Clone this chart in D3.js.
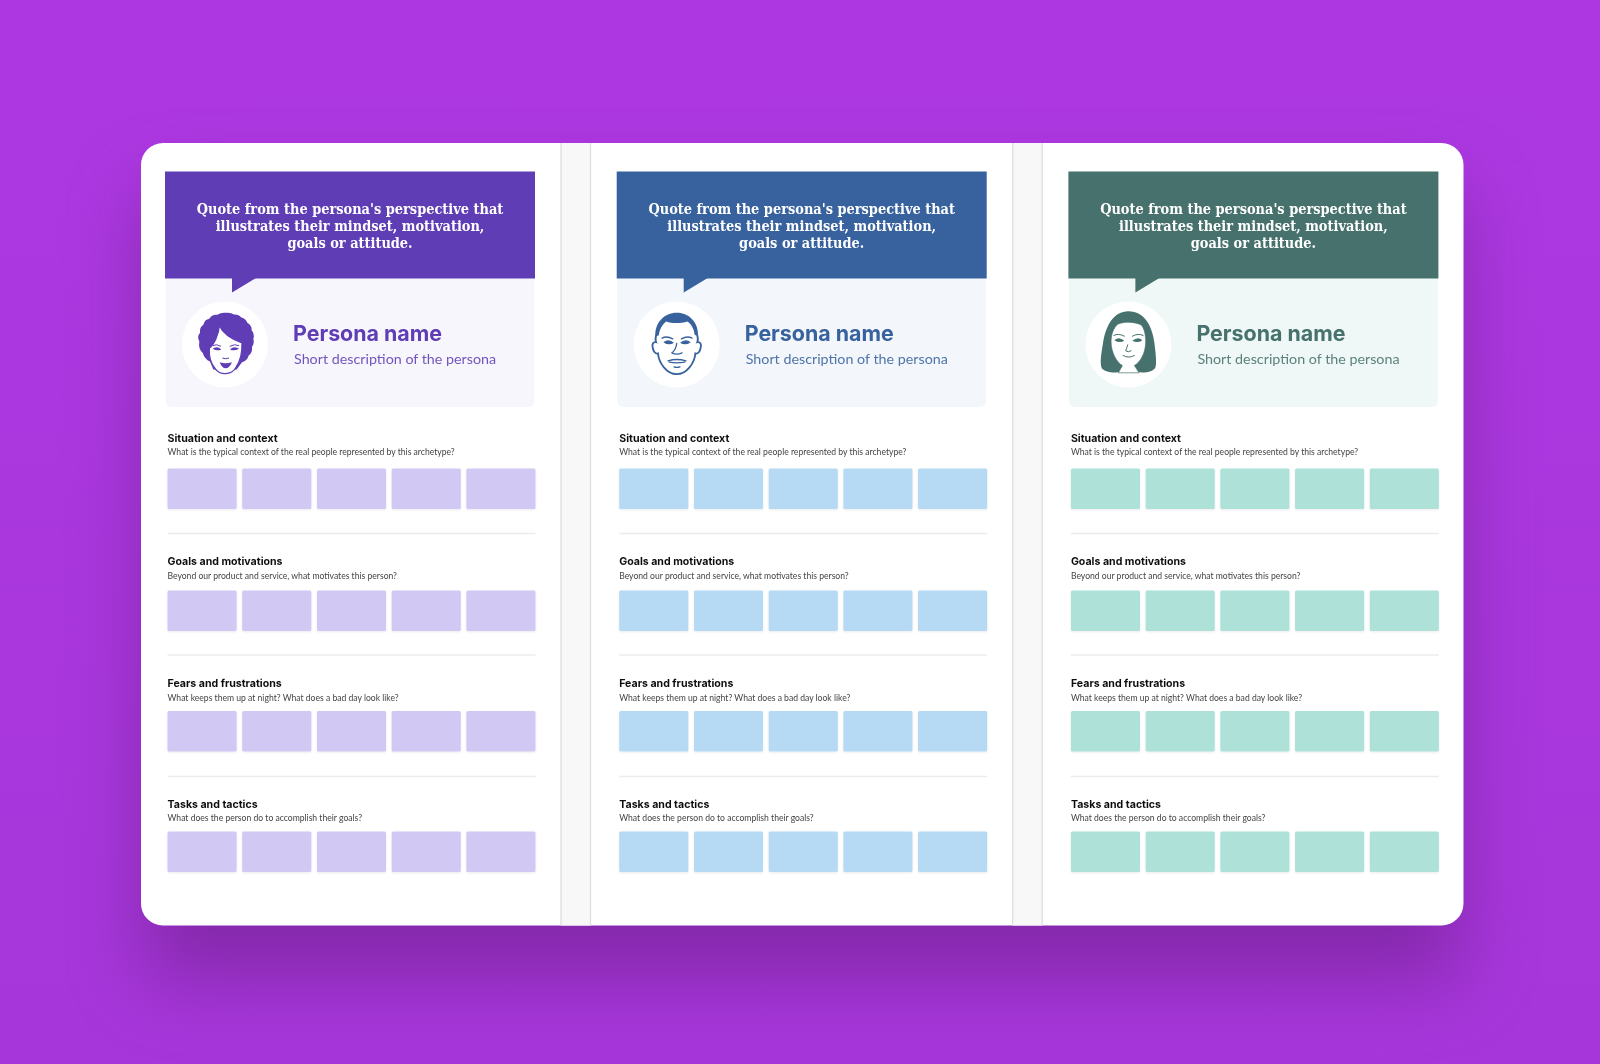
<!DOCTYPE html>
<html>
<head>
<meta charset="utf-8">
<script src="https://cdnjs.cloudflare.com/ajax/libs/d3/7.8.5/d3.min.js"></script>
<style>
  html, body { margin: 0; padding: 0; background: #ad38e2; overflow: hidden; }
  svg { display: block; }
</style>
</head>
<body>
<div id="chart"></div>
<script>
var personas = ['purple', 'blue', 'green'];
var headerColors = ['#5f3db5', '#38629e', '#47716c'];
var panelColors = ['#f7f6fc', '#f3f7fc', '#eff8f6'];
var stickyColors = ['#d1c8f3', '#b6d9f4', '#aee2d8'];
var quoteLines = ["Quote from the persona's perspective that", 'illustrates their mindset, motivation,', 'goals or attitude.'];
var personaName = 'Persona name';
var personaDesc = 'Short description of the persona';
var sections = ['Situation and context', 'Goals and motivations', 'Fears and frustrations', 'Tasks and tactics'];
var questions = [
    'What is the typical context of the real people represented by this archetype?',
    'Beyond our product and service, what motivates this person?',
    'What keeps them up at night? What does a bad day look like?',
    'What does the person do to accomplish their goals?'
];
var stickies = [1, 2, 3, 4, 5];

var WIDTH = 1600, HEIGHT = 1064;

var svg = d3.select('#chart').append('svg')
    .attr('width', WIDTH)
    .attr('height', HEIGHT);

var defs = svg.append('defs');

var bg = defs.append('linearGradient').attr('id', 'bg')
    .attr('x1', 0).attr('y1', 0).attr('x2', 0).attr('y2', 1);
bg.append('stop').attr('offset', '0').attr('stop-color', '#ad38e2');
bg.append('stop').attr('offset', '1').attr('stop-color', '#a636da');

defs.append('filter').attr('id', 'cardShadow')
    .attr('x', '-30%').attr('y', '-30%').attr('width', '160%').attr('height', '160%')
    .attr('color-interpolation-filters', 'sRGB')
    .append('feGaussianBlur').attr('stdDeviation', 38);

defs.append('filter').attr('id', 'soft')
    .attr('x', '-5%').attr('y', '-5%').attr('width', '110%').attr('height', '110%')
    .append('feGaussianBlur').attr('stdDeviation', 0.35);

defs.append('filter').attr('id', 'stickyShadow')
    .attr('x', '-10%').attr('y', '-10%').attr('width', '120%').attr('height', '130%')
    .append('feDropShadow')
    .attr('dx', 0).attr('dy', 1).attr('stdDeviation', 1.2)
    .attr('flood-color', '#000').attr('flood-opacity', 0.08);

svg.append('rect').attr('width', WIDTH).attr('height', HEIGHT).attr('fill', 'url(#bg)');

// shadow under the card
svg.append('rect')
    .attr('x', 145).attr('y', 190)
    .attr('width', 1315).attr('height', 790)
    .attr('fill', '#6a1e86').attr('opacity', 0.56)
    .attr('filter', 'url(#cardShadow)');

svg.append('rect')
    .attr('x', 141).attr('y', 143)
    .attr('width', 1322.5).attr('height', 782.5)
    .attr('rx', 22)
    .attr('fill', '#fff');

var root = svg.append('g').attr('filter', 'url(#soft)');

// scales
var columnX = d3.scalePoint().domain(personas).range([0, 903.4]);
var stickyX = d3.scaleBand().domain(stickies).range([167.5, 535.5]).paddingInner(0.0745).paddingOuter(0);
var titleY = d3.scaleOrdinal().domain(sections).range([442, 565, 687, 808]);
var questionY = d3.scaleOrdinal().domain(sections).range([455, 578.5, 700.5, 821]);
var stickyY = d3.scaleOrdinal().domain(sections).range([468.5, 590.5, 711, 831.5]);
var stickyH = 40.5;
var dividerY = d3.scaleOrdinal().domain(sections.slice(0, 3)).range([533.5, 655, 776.5]);
var quoteY = d3.scalePoint().domain(quoteLines).range([213.5, 247.5]);

// gray strips between the sheets
personas.slice(0, 2).forEach(function (p) {
    var g = root.append('g').attr('transform', 'translate(' + columnX(p) + ',0)');
    g.append('rect').attr('x', 561).attr('y', 143).attr('width', 29.5).attr('height', 782.5).attr('fill', '#f8f8f8');
    g.selectAll('line')
        .data([561, 590.5])
        .enter().append('line')
        .attr('x1', function (d) { return d; })
        .attr('x2', function (d) { return d; })
        .attr('y1', 143).attr('y2', 925.5)
        .attr('stroke', '#dcdcdc').attr('stroke-width', 1.2);
});

// faces are drawn in a 330 box, 3x the size on screen
function drawPurpleFace(g, c) {
    g.append('path').attr('fill', c)
        .attr('d', 'M168 70 Q182 68 192 75 Q206 74 214 84 Q228 88 232 100 Q246 108 245 122 Q255 134 250 148 Q254 162 246 172 Q248 190 236 198 Q232 214 216 218 L200 240 L130 240 L120 216 Q104 210 98 190 Q84 178 88 156 Q80 142 90 130 Q88 114 100 106 Q104 90 118 88 Q126 74 142 76 Q154 68 168 70 Z');
    g.append('path').attr('fill', '#fff').attr('stroke', c).attr('stroke-width', 4)
        .attr('d', 'M148 108 C156 126 176 146 216 160 C217 192 212 214 198 234 C184 258 150 258 136 238 C122 222 116 200 118 176 C132 166 146 136 148 108 Z');
    g.append('path').attr('fill', 'none').attr('stroke', c).attr('stroke-width', 3).attr('stroke-linecap', 'round')
        .attr('d', 'M128 168 Q140 162 152 170 M180 170 Q194 162 206 168 M158 206 Q167 210 176 206');
    g.append('path').attr('fill', c)
        .attr('d', 'M128 178 Q141 168 154 180 Q141 186 128 178 Z M180 180 Q193 168 207 178 Q193 186 180 180 Z M149 218 Q167 224 186 218 Q178 236 167 236 Q156 236 149 218 Z');
}

function drawBlueFace(g, c) {
    g.append('path').attr('fill', c)
        .attr('d', 'M108 140 C106 100 135 70 172 70 C210 70 238 100 236 140 L226 136 C224 118 216 104 204 96 C184 102 158 102 140 96 C128 106 120 120 118 138 Z');
    g.append('path').attr('fill', 'none').attr('stroke', c).attr('stroke-width', 5.5).attr('stroke-linecap', 'round')
        .attr('d', 'M110 138 C108 148 108 154 110 158 C102 156 97 164 100 174 C102 186 108 194 116 192 C118 220 142 254 172 254 C202 254 226 220 228 192 C236 194 242 186 244 174 C247 164 242 156 234 158 C236 154 236 148 234 138');
    g.append('path').attr('fill', 'none').attr('stroke', c).attr('stroke-width', 4).attr('stroke-linecap', 'round')
        .attr('d', 'M128 146 Q142 138 160 148 M186 148 Q204 138 218 146 M172 162 Q170 180 158 190 Q172 198 188 190 M146 214 Q172 206 200 214 M150 218 Q172 222 196 218 M164 232 Q172 235 182 232');
    g.append('path').attr('fill', c)
        .attr('d', 'M132 158 Q148 146 164 160 Q148 170 132 158 Z M182 160 Q198 146 214 158 Q198 170 182 160 Z');
}

function drawGreenFace(g, c) {
    g.append('path').attr('fill', c)
        .attr('d', 'M178 65 C226 65 250 110 256 160 C260 195 264 225 258 236 C248 248 226 250 214 248 L146 248 C132 250 108 248 98 236 C92 220 96 195 102 160 C110 108 134 65 178 65 Z');
    g.append('path').attr('fill', '#fff').attr('stroke', c).attr('stroke-width', 2)
        .attr('d', 'M146 104 C166 96 194 96 216 106 C226 116 230 138 230 156 C230 192 212 220 196 228 L210 250 L148 250 L160 228 C144 220 126 190 126 156 C126 134 134 114 146 104 Z');
    g.append('path').attr('fill', 'none').attr('stroke', c).attr('stroke-width', 3).attr('stroke-linecap', 'round')
        .attr('d', 'M134 138 Q148 130 166 140 M190 140 Q208 130 222 138 M176 166 Q172 178 170 184 Q178 190 186 184 M162 198 Q178 208 196 198');
    g.append('path').attr('fill', c)
        .attr('d', 'M136 152 Q150 140 166 154 Q150 162 136 152 Z M190 154 Q206 140 220 152 Q206 162 190 154 Z');
}

var faceDrawers = [drawPurpleFace, drawBlueFace, drawGreenFace];
var faceCenters = [[165, 165], [172, 165], [178, 165]];

personas.forEach(function (p, i) {
    var col = root.append('g').attr('class', 'col-' + p)
        .attr('transform', 'translate(' + columnX(p) + ',0)');
    var main = headerColors[i];

    col.append('rect')
        .attr('x', 165.5).attr('y', 270)
        .attr('width', 369).attr('height', 137)
        .attr('rx', 6)
        .attr('fill', panelColors[i]);

    col.append('rect')
        .attr('x', 165).attr('y', 171.5)
        .attr('width', 370).attr('height', 107)
        .attr('fill', main);

    col.append('path')
        .attr('d', 'M232 278 L232 292.5 L256 278 Z')
        .attr('fill', main);

    col.selectAll('text.quote')
        .data(quoteLines)
        .enter().append('text')
        .attr('class', 'quote')
        .attr('x', 350)
        .attr('y', function (d) { return quoteY(d); })
        .attr('text-anchor', 'middle')
        .attr('font-family', '"DejaVu Serif Condensed", "DejaVu Serif"')
        .attr('font-weight', 'bold')
        .attr('font-size', 14.4)
        .attr('fill', '#fff')
        .text(function (d) { return d; });

    col.append('circle')
        .attr('cx', 225).attr('cy', 344.5).attr('r', 43)
        .attr('fill', '#fff');

    var face = col.append('g')
        .attr('transform', 'translate(225,344.5) scale(' + (1 / 3) + ') translate(' + (-faceCenters[i][0]) + ',' + (-faceCenters[i][1]) + ')');
    faceDrawers[i](face, main);

    col.append('text')
        .attr('x', 293).attr('y', 341)
        .attr('font-family', 'Inter')
        .attr('font-weight', 700)
        .attr('font-size', 21.4)
        .attr('fill', main)
        .text(personaName);

    col.append('text')
        .attr('x', 294).attr('y', 363.5)
        .attr('font-family', 'Lato')
        .attr('font-size', 14.3)
        .attr('fill', main)
        .attr('fill-opacity', 0.88)
        .text(personaDesc);

    sections.forEach(function (s, k) {
        col.append('text')
            .attr('x', 167.5).attr('y', titleY(s))
            .attr('font-family', 'Inter')
            .attr('font-weight', 700)
            .attr('font-size', 10.6)
            .attr('fill', '#111')
            .text(s);

        col.append('text')
            .attr('x', 167.5).attr('y', questionY(s))
            .attr('font-family', 'Lato')
            .attr('font-size', 8.6)
            .attr('fill', '#444')
            .text(questions[k]);

        col.selectAll('rect.sticky-' + k)
            .data(stickies)
            .enter().append('rect')
            .attr('class', 'sticky-' + k)
            .attr('x', function (d) { return stickyX(d); })
            .attr('y', stickyY(s))
            .attr('width', stickyX.bandwidth())
            .attr('height', stickyH)
            .attr('rx', 1.5)
            .attr('fill', stickyColors[i])
            .attr('filter', 'url(#stickyShadow)');
    });

    col.selectAll('line.divider')
        .data(sections.slice(0, 3))
        .enter().append('line')
        .attr('class', 'divider')
        .attr('x1', 167.5).attr('x2', 535.5)
        .attr('y1', function (d) { return dividerY(d); })
        .attr('y2', function (d) { return dividerY(d); })
        .attr('stroke', '#ececec')
        .attr('stroke-width', 1.6);
});
</script>
</body>
</html>
